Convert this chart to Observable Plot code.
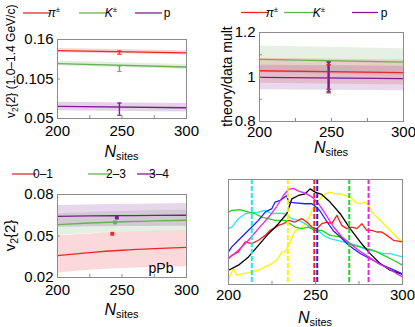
<!DOCTYPE html>
<html><head><meta charset="utf-8">
<script src="https://cdn.jsdelivr.net/npm/d3@7"></script>
<script src="https://cdn.jsdelivr.net/npm/@observablehq/plot@0.6"></script>
<style>
body{margin:0;background:#fff;}
#root{position:relative;width:415px;height:327px;overflow:hidden;background:#fff;}
</style></head><body><div id="root"></div>
<script>
// ---------------- data ----------------
const xTicks = [200, 250, 300];
const xMinor = [225, 275];

// Panel 1: v2{2} (1.0-1.4 GeV/c)
const p1Names = ["π", "K", "p"];
const p1N = [200, 300];
const p1PiMid = [0.1446, 0.1413];
const p1PiHalf = [0.003, 0.003];
const p1KMid = [0.1265, 0.1217];
const p1KHalf = [0.0035, 0.0035];
const p1PMid = [0.0668, 0.0650];
const p1PHalf = [0.006, 0.006];
const p1PointN = [248, 248, 248];
const p1PointVal = [0.1418, 0.1195, 0.0630];
const p1PointErr = [0.0022, 0.004, 0.0085];
const p1YTicks = [0.05, 0.105, 0.16];
const p1YLabels = ["0.05", "0.105", "0.16"];

// Panel 2: theory/data mult
const p2N = [200, 300];
const p2PiMid = [1.028, 1.020];
const p2PiHalf = [0.056, 0.056];
const p2KMid = [1.079, 1.067];
const p2KHalf = [0.06, 0.06];
const p2PMid = [0.998, 0.993];
const p2PHalf = [0.055, 0.055];
const p2PointN = [248, 248, 248];   // K, pi, p
const p2PointVal = [1.0, 1.0, 1.0];
const p2PointErr = [0.072, 0.055, 0.067];
const p2YTicks = [0.8, 1, 1.2];
const p2YLabels = ["0.8", "1", "1.2"];
const p2YMinor = [0.9, 1.1];

// Panel 3: v2{2} by class, pPb
const p3Names = ["0–1", "2–3", "3–4"];
const p3N = [200, 225, 250, 275, 300];
const p3RedMid = [0.0358, 0.0380, 0.0397, 0.0409, 0.0418];
const p3RedLo = [0.0232, 0.0253, 0.0265, 0.0272, 0.0277];
const p3RedHi = [0.0500, 0.0515, 0.0527, 0.0535, 0.0540];
const p3GreenMid = [0.0582, 0.0594, 0.0603, 0.0609, 0.0614];
const p3GreenLo = [0.0504, 0.0518, 0.0528, 0.0535, 0.0540];
const p3GreenHi = [0.0660, 0.0670, 0.0678, 0.0684, 0.0688];
const p3PurpleMid = [0.0642, 0.0645, 0.0647, 0.0649, 0.0650];
const p3PurpleLo = [0.0564, 0.0566, 0.0568, 0.0569, 0.0570];
const p3PurpleHi = [0.0721, 0.0725, 0.0729, 0.0732, 0.0735];
const p3PointN = [242.5, 244.5, 246];
const p3PointVal = [0.0516, 0.0598, 0.0633];
const p3YTicks = [0.02, 0.05, 0.08];
const p3YLabels = ["0.02", "0.05", "0.08"];
const p3Tag = "pPb";

// Panel 4: N_sites distributions
const p4BlackN = [200,205.7,211.5,217.2,223,228.7,233.5,236.4,240.2,244.1,246.9,249.8,253.6,258.4,264.2,269.9,275.7,281.4,287.2,292.9,298.7,300];
const p4BlackV = [0.136,0.184,0.263,0.373,0.484,0.579,0.674,0.816,0.848,0.864,0.911,0.880,0.858,0.785,0.674,0.532,0.405,0.294,0.199,0.136,0.104,0.098];
const p4BlueN = [200,201.9,205.7,211.5,217.2,221.1,224.9,226.8,229.7,233.5,234.5,238.3,244.1,247.9,249.8,252.6,256.5,260.3,264.2,268,271.8,275.7,281.4,287.2,292.9,298.7,300];
const p4BlueV = [0.31,0.358,0.421,0.516,0.611,0.690,0.722,0.785,0.801,0.848,0.785,0.778,0.769,0.769,0.745,0.70,0.60,0.51,0.455,0.39,0.34,0.295,0.245,0.195,0.155,0.11,0.10];
const p4MagentaN = [200,205.7,211.5,217.2,223,227.8,231.6,234.5,237.3,240.2,244.1,247.9,251.7,255.6,260.3,265.1,269.9,274.7,280.5,286.2,292,296.7,300];
const p4MagentaV = [0.247,0.326,0.421,0.532,0.640,0.745,0.850,0.905,0.915,0.890,0.870,0.835,0.770,0.675,0.550,0.455,0.390,0.326,0.263,0.199,0.152,0.104,0.073];
const p4RedN = [200,201.9,205.7,209.6,213.4,217.2,221.1,223.9,225.9,228.7,231.6,234.5,238.3,242.1,245,247.9,250.8,253.6,256.5,259.4,262.3,265.1,268,270.9,273.8,276.6,279.5,282.4,285.2,288.1,291,294.8,300];
const p4RedV = [0.247,0.278,0.310,0.405,0.389,0.421,0.468,0.516,0.532,0.563,0.579,0.611,0.595,0.627,0.595,0.547,0.532,0.579,0.595,0.579,0.658,0.563,0.532,0.547,0.532,0.579,0.516,0.516,0.500,0.500,0.468,0.421,0.405];
const p4GreenN = [200,201.9,206.7,211.5,215.3,219.2,223,226.8,232.6,235.4,238.3,242.1,246,249.8,253.6,258.4,264.2,268,271.8,275.7,279.5,283.3,287.2,291,294.8,300];
const p4GreenV = [0.690,0.706,0.712,0.690,0.674,0.642,0.627,0.611,0.611,0.579,0.547,0.532,0.547,0.516,0.516,0.468,0.453,0.405,0.373,0.358,0.342,0.326,0.294,0.263,0.231,0.184];
const p4CyanN = [200,201.9,205.7,209.6,213.4,217.2,221.1,224.9,228.7,232.6,236.4,240.2,244.1,247.9,251.7,254.6,258.4,262.3,266.1,269.9,273.8,277.6,281.4,285.2,289.1,292.9,296.7,300];
const p4CyanV = [0.532,0.547,0.627,0.674,0.684,0.690,0.706,0.674,0.680,0.674,0.627,0.611,0.579,0.532,0.509,0.468,0.437,0.421,0.405,0.389,0.373,0.342,0.326,0.310,0.294,0.294,0.278,0.263];
const p4YellowN = [200,201,202.9,204.8,208.6,213.4,217.2,221.1,224.9,227.8,230.7,232.6,234.5,236.4,238.3,241.2,244.1,246.9,248.9,252.6,255.6,258.4,261.3,264.2,267,269.9,272.8,275.7,278.5,280.5,282.4,285.2,289.1,292.9,296.7,300];
const p4YellowV = [0.041,0.089,0.152,0.089,0.104,0.120,0.136,0.168,0.199,0.231,0.310,0.310,0.373,0.437,0.516,0.532,0.579,0.658,0.737,0.816,0.864,0.880,0.864,0.864,0.848,0.832,0.785,0.769,0.785,0.753,0.690,0.642,0.579,0.516,0.453,0.405];
const p4MarkerN = [213.4, 234.1, 249.3, 251.0, 269.4, 280.5];

// ---------------- styles ----------------
const FONT = '"Liberation Sans", Arial, Helvetica, sans-serif';
const FRAME = "#8c8c8c";
const RED = "#e8292b", GREEN = "#6aae5a", PURPLE = "#7a1f8c";
const C4 = {black: "#000000", blue: "#1f1fff", magenta: "#f020f0", red: "#ff1e1e", green: "#1ed81e", cyan: "#22e6f2", yellow: "#fff200"};
const markerColors = [C4.cyan, C4.yellow, C4.red, C4.blue, C4.green, C4.magenta];

const root = document.getElementById("root");

function rows(n, mid, lo, hi) {
  return n.map((x, i) => ({n: x, mid: mid[i], lo: lo[i], hi: hi[i]}));
}
function rowsHalf(n, mid, half) {
  return n.map((x, i) => ({n: x, mid: mid[i], lo: mid[i] - half[i], hi: mid[i] + half[i]}));
}
const capSymbol = {draw(ctx, size) { const r = Math.sqrt(size / Math.PI); ctx.moveTo(-r, 0); ctx.lineTo(r, 0); }};

function panel(frame, yDomain, yTicks, yLabels, yMinor, xPad, marks) {
  const [x0, y0, x1, y1] = frame;
  const W = x1 - x0, H = y1 - y0;
  const yLab = new Map(yTicks.map((t, i) => [t, yLabels[i]]));
  const svg = Plot.plot({
    width: 415, height: 327,
    marginLeft: x0, marginRight: 415 - x1, marginTop: y0, marginBottom: 327 - y1,
    x: {domain: [200, 300]},
    y: {domain: yDomain, axis: yTicks.length ? undefined : null},
    style: {fontFamily: FONT, fontSize: "15px", background: "transparent", color: "#000", overflow: "visible"},
    marks: [
      ...marks,
      Plot.frame({stroke: FRAME}),
      Plot.tickX(xTicks.concat(xMinor), {x: d => d, insetTop: H - 3, stroke: FRAME}),
      yTicks.length ? Plot.tickY(yTicks.concat(yMinor), {y: d => d, insetRight: W - 3, stroke: FRAME}) : null,
      Plot.axisX(xTicks, {anchor: "bottom", tickSize: 0, tickPadding: xPad, label: null, tickFormat: d => String(d)}),
      yTicks.length ? Plot.axisY(yTicks, {anchor: "left", tickSize: 0, tickPadding: 4, label: null, tickFormat: d => yLab.get(d)}) : null
    ].filter(Boolean)
  });
  svg.style.position = "absolute"; svg.style.left = "0"; svg.style.top = "0";
  root.appendChild(svg);
  return svg;
}

function xLabel(svg, cx, baseline) {
  const t = d3.select(svg).append("text").attr("x", cx).attr("y", baseline)
    .attr("text-anchor", "middle").attr("font-family", FONT).attr("fill", "#000");
  t.append("tspan").attr("font-style", "italic").attr("font-size", 16).text("N");
  t.append("tspan").attr("font-size", 11).attr("dy", 3).text("sites");
}
function yLabel(svg, x, y, anchor, size, parts) {
  const t = d3.select(svg).append("text").attr("transform", `translate(${x},${y}) rotate(-90)`)
    .attr("text-anchor", anchor).attr("font-family", FONT).attr("font-size", size).attr("fill", "#000");
  parts.forEach(p => {
    const s = t.append("tspan").text(p.t);
    if (p.sub) s.attr("font-size", size * 0.7).attr("dy", p.sub);
    if (p.back) s.attr("dy", p.back);
  });
}

function legend(svg, y, items) {
  const g = d3.select(svg).append("g").attr("font-family", FONT).attr("font-size", 12);
  items.forEach(it => {
    g.append("line").attr("x1", it.x1).attr("x2", it.x2).attr("y1", y).attr("y2", y)
      .attr("stroke", it.color).attr("stroke-width", 1.3);
    const t = g.append("text").attr("x", it.tx).attr("y", y + 4.3).attr("fill", "#000");
    const m = t.append("tspan").text(it.label);
    if (it.italic) m.attr("font-style", "italic");
    if (it.sup) t.append("tspan").attr("font-size", 8).attr("dy", -5).text(it.sup);
  });
}

// ---------------- panel 1 ----------------
{
  const pi = rowsHalf(p1N, p1PiMid, p1PiHalf), k = rowsHalf(p1N, p1KMid, p1KHalf), p = rowsHalf(p1N, p1PMid, p1PHalf);
  const pts = p1PointN.map((n, i) => ({n, v: p1PointVal[i], lo: p1PointVal[i] - p1PointErr[i], hi: p1PointVal[i] + p1PointErr[i], c: [RED, GREEN, PURPLE][i]}));
  const marks = [];
  [[pi, RED], [k, GREEN], [p, PURPLE]].forEach(([d, c]) => {
    marks.push(Plot.areaY(d, {x: "n", y1: "lo", y2: "hi", fill: c, fillOpacity: 0.2}));
    marks.push(Plot.line(d, {x: "n", y: "mid", stroke: c, strokeWidth: 1.3}));
  });
  marks.push(Plot.ruleX(pts, {x: "n", y1: "lo", y2: "hi", stroke: "c", strokeWidth: 1.4}));
  marks.push(Plot.dot(pts, {x: "n", y: "lo", symbol: capSymbol, r: 2.2, stroke: "c", strokeWidth: 1.2}));
  marks.push(Plot.dot(pts, {x: "n", y: "hi", symbol: capSymbol, r: 2.2, stroke: "c", strokeWidth: 1.2}));
  const svg = panel([57, 39, 186, 118], [0.05, 0.16], p1YTicks, p1YLabels, [], 6.5, marks);
  xLabel(svg, 121.5, 157);
  yLabel(svg, 15, 118, "start", 12, [{t: "v"}, {t: "2", sub: 3}, {t: "{2} (1.0–1.4 GeV/c)", back: -3}]);
  legend(svg, 13, [
    {x1: 23, x2: 50, color: RED, tx: 54, label: p1Names[0], italic: true, sup: "±"},
    {x1: 79, x2: 106, color: GREEN, tx: 111, label: p1Names[1], italic: true, sup: "±"},
    {x1: 135, x2: 162, color: PURPLE, tx: 167, label: p1Names[2]}
  ]);
}

// ---------------- panel 2 ----------------
{
  const pi = rowsHalf(p2N, p2PiMid, p2PiHalf), k = rowsHalf(p2N, p2KMid, p2KHalf), p = rowsHalf(p2N, p2PMid, p2PHalf);
  const pts = p2PointN.map((n, i) => ({n, v: p2PointVal[i], lo: p2PointVal[i] - p2PointErr[i], hi: p2PointVal[i] + p2PointErr[i], c: [GREEN, RED, PURPLE][i]}));
  const marks = [];
  [[k, GREEN], [pi, RED], [p, PURPLE]].forEach(([d, c]) => {
    marks.push(Plot.areaY(d, {x: "n", y1: "lo", y2: "hi", fill: c, fillOpacity: 0.17}));
  });
  [[k, GREEN], [pi, RED], [p, PURPLE]].forEach(([d, c]) => {
    marks.push(Plot.line(d, {x: "n", y: "mid", stroke: c, strokeWidth: 1.3}));
  });
  marks.push(Plot.ruleX(pts, {x: "n", y1: "lo", y2: "hi", stroke: "c", strokeWidth: 2}));
  marks.push(Plot.dot(pts, {x: "n", y: "lo", symbol: capSymbol, r: 2.2, stroke: "c", strokeWidth: 1.4}));
  marks.push(Plot.dot(pts, {x: "n", y: "hi", symbol: capSymbol, r: 2.2, stroke: "c", strokeWidth: 1.4}));
  const svg = panel([259, 32, 403, 121], [0.8, 1.2], p2YTicks, p2YLabels, p2YMinor, 5, marks);
  xLabel(svg, 331, 153);
  yLabel(svg, 232, 76.5, "middle", 14, [{t: "theory/data mult"}]);
  legend(svg, 12.5, [
    {x1: 241, x2: 268, color: RED, tx: 272, label: p1Names[0], italic: true, sup: "±"},
    {x1: 284, x2: 315, color: GREEN, tx: 319, label: p1Names[1], italic: true, sup: "±"},
    {x1: 352, x2: 378, color: PURPLE, tx: 384, label: p1Names[2]}
  ]);
}

// ---------------- panel 3 ----------------
{
  const r = rows(p3N, p3RedMid, p3RedLo, p3RedHi), g = rows(p3N, p3GreenMid, p3GreenLo, p3GreenHi), p = rows(p3N, p3PurpleMid, p3PurpleLo, p3PurpleHi);
  const pts = p3PointN.map((n, i) => ({n, v: p3PointVal[i], c: [RED, GREEN, PURPLE][i]}));
  const marks = [];
  [[r, RED], [g, GREEN], [p, PURPLE]].forEach(([d, c]) => {
    marks.push(Plot.areaY(d, {x: "n", y1: "lo", y2: "hi", fill: c, fillOpacity: 0.18, curve: "monotone-x"}));
  });
  [[r, RED], [g, GREEN], [p, PURPLE]].forEach(([d, c]) => {
    marks.push(Plot.line(d, {x: "n", y: "mid", stroke: c, strokeWidth: 1.3, curve: "monotone-x"}));
  });
  marks.push(Plot.dot(pts, {x: "n", y: "v", symbol: "square", r: 2.2, fill: "c"}));
  marks.push(Plot.text([p3Tag], {frameAnchor: "bottom-right", text: d => d, dx: -13, dy: -5, fontSize: 14, textAnchor: "end", lineAnchor: "bottom"}));
  const svg = panel([57, 194, 186, 277], [0.02, 0.08], p3YTicks, p3YLabels, [], 6.4, marks);
  xLabel(svg, 121.5, 315);
  yLabel(svg, 15, 235.5, "middle", 15, [{t: "v"}, {t: "2", sub: 3}, {t: "{2}", back: -3}]);
  legend(svg, 174, [
    {x1: 12, x2: 36, color: RED, tx: 43, label: p3Names[0]},
    {x1: 88, x2: 110, color: GREEN, tx: 116, label: p3Names[1]},
    {x1: 137, x2: 155, color: PURPLE, tx: 159, label: p3Names[2]}
  ]);
}

// ---------------- panel 4 ----------------
{
  const series = [
    [p4YellowN, p4YellowV, C4.yellow],
    [p4CyanN, p4CyanV, C4.cyan],
    [p4GreenN, p4GreenV, C4.green],
    [p4RedN, p4RedV, C4.red],
    [p4BlackN, p4BlackV, C4.black],
    [p4BlueN, p4BlueV, C4.blue],
    [p4MagentaN, p4MagentaV, C4.magenta]
  ];
  const marks = series.map(([n, v, c]) => Plot.line(n.map((x, i) => ({n: x, v: v[i]})), {x: "n", y: "v", stroke: c, strokeWidth: 1.3}));
  const vl = p4MarkerN.map((n, i) => ({n, c: markerColors[i]}));
  marks.push(Plot.ruleX(vl, {x: "n", stroke: "c", strokeWidth: 2, strokeDasharray: "5,2"}));
  const svg = panel([228, 179, 402, 284], [0, 1], [], [], [], 5.3, marks);
  xLabel(svg, 315, 323);
}
</script></body></html>
